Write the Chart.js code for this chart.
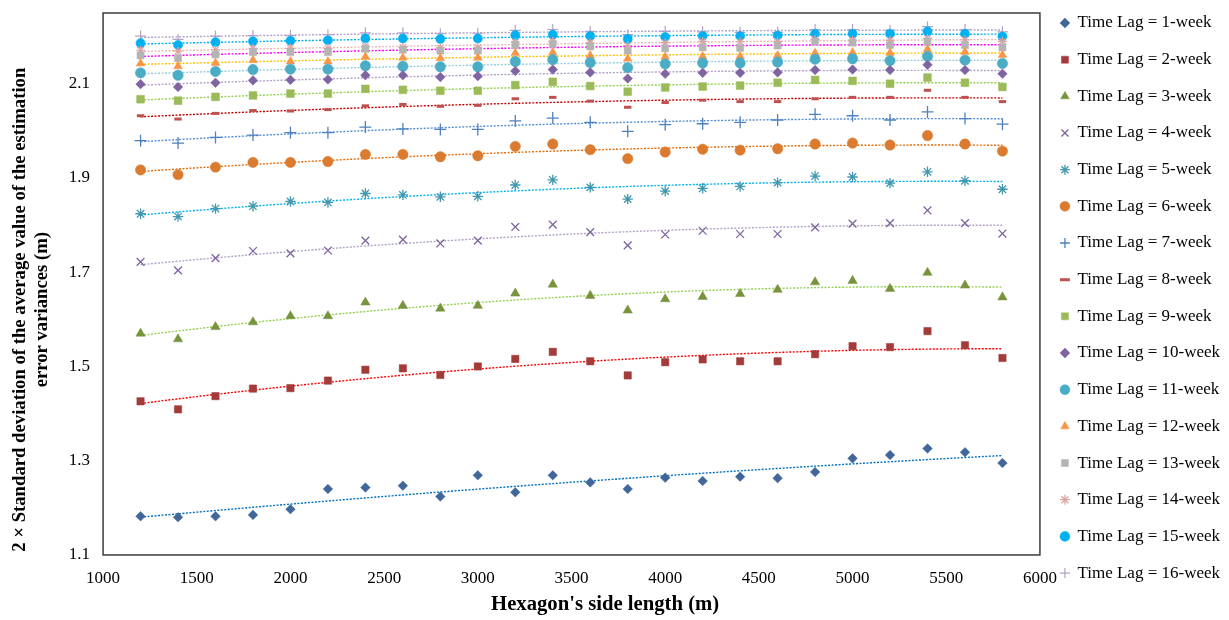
<!DOCTYPE html>
<html>
<head>
<meta charset="utf-8">
<script src="https://cdn.jsdelivr.net/npm/chart.js@4.4.1/dist/chart.umd.min.js"></script>
<style>
  html, body { margin: 0; padding: 0; background: #fff; }
  #wrap { width: 1229px; height: 620px; position: relative; }
</style>
</head>
<body>
<div id="wrap"><canvas id="chart"></canvas></div>
<script>
// ===== DATA =====
const sideLengths = [1200, 1400, 1600, 1800, 2000, 2200, 2400, 2600, 2800, 3000, 3200, 3400,
                     3600, 3800, 4000, 4200, 4400, 4600, 4800, 5000, 5200, 5400, 5600, 5800];

const lag1  = [1.182,1.180,1.182,1.185,1.197,1.240,1.243,1.247,1.224,1.269,1.233,1.269,1.254,1.240,1.264,1.257,1.266,1.263,1.276,1.305,1.312,1.326,1.318,1.295];
const lag2  = [1.426,1.409,1.437,1.453,1.454,1.470,1.493,1.496,1.482,1.500,1.516,1.531,1.511,1.481,1.509,1.515,1.511,1.511,1.526,1.543,1.541,1.575,1.545,1.518];
const lag3  = [1.570,1.558,1.584,1.594,1.607,1.607,1.636,1.629,1.623,1.629,1.655,1.674,1.650,1.619,1.643,1.648,1.654,1.663,1.679,1.682,1.665,1.699,1.672,1.647];
const lag4  = [1.722,1.704,1.730,1.745,1.740,1.746,1.767,1.769,1.761,1.767,1.796,1.801,1.785,1.757,1.780,1.788,1.781,1.781,1.795,1.803,1.804,1.831,1.804,1.782];
const lag5  = [1.824,1.818,1.835,1.840,1.850,1.848,1.867,1.864,1.860,1.861,1.885,1.896,1.880,1.855,1.872,1.878,1.882,1.890,1.904,1.902,1.889,1.913,1.894,1.876];
const lag6  = [1.917,1.907,1.923,1.933,1.933,1.935,1.950,1.950,1.945,1.947,1.967,1.972,1.960,1.941,1.955,1.961,1.959,1.962,1.972,1.974,1.970,1.990,1.972,1.957];
const lag7  = [1.979,1.974,1.986,1.991,1.996,1.996,2.008,2.004,2.003,2.003,2.021,2.027,2.018,1.999,2.013,2.015,2.018,2.023,2.035,2.032,2.023,2.040,2.026,2.014];
const lag8  = [2.032,2.025,2.037,2.043,2.042,2.045,2.053,2.056,2.052,2.054,2.068,2.071,2.063,2.050,2.060,2.065,2.062,2.062,2.068,2.071,2.071,2.086,2.071,2.062];
const lag9  = [2.067,2.064,2.072,2.075,2.079,2.079,2.089,2.087,2.085,2.085,2.097,2.104,2.095,2.083,2.092,2.094,2.096,2.102,2.108,2.106,2.100,2.113,2.102,2.093];
const lag10 = [2.099,2.093,2.102,2.107,2.108,2.109,2.118,2.118,2.114,2.116,2.127,2.130,2.124,2.111,2.121,2.123,2.123,2.124,2.129,2.130,2.129,2.140,2.129,2.121];
const lag11 = [2.123,2.118,2.126,2.130,2.131,2.131,2.138,2.137,2.136,2.136,2.147,2.151,2.145,2.134,2.142,2.144,2.144,2.146,2.152,2.153,2.149,2.158,2.150,2.143];
const lag12 = [2.143,2.137,2.144,2.150,2.147,2.147,2.157,2.155,2.154,2.155,2.165,2.166,2.160,2.153,2.157,2.158,2.158,2.160,2.165,2.166,2.165,2.173,2.167,2.161];
const lag13 = [2.160,2.154,2.162,2.167,2.167,2.167,2.174,2.172,2.170,2.170,2.182,2.184,2.179,2.170,2.175,2.177,2.176,2.181,2.189,2.187,2.182,2.189,2.182,2.177];
const lag14 = [2.171,2.169,2.172,2.175,2.175,2.175,2.179,2.177,2.176,2.177,2.188,2.190,2.187,2.181,2.187,2.190,2.189,2.190,2.194,2.192,2.192,2.196,2.193,2.190];
const lag15 = [2.186,2.182,2.188,2.190,2.191,2.192,2.196,2.196,2.195,2.196,2.203,2.204,2.201,2.195,2.199,2.201,2.201,2.202,2.206,2.206,2.206,2.211,2.206,2.200];
const lag16 = [2.201,2.194,2.201,2.202,2.202,2.204,2.208,2.208,2.206,2.207,2.213,2.215,2.211,2.204,2.211,2.210,2.209,2.209,2.215,2.215,2.213,2.221,2.215,2.210];

const lagLabels = ['Time Lag = 1-week','Time Lag = 2-week','Time Lag = 3-week','Time Lag = 4-week',
  'Time Lag = 5-week','Time Lag = 6-week','Time Lag = 7-week','Time Lag = 8-week','Time Lag = 9-week',
  'Time Lag = 10-week','Time Lag = 11-week','Time Lag = 12-week','Time Lag = 13-week',
  'Time Lag = 14-week','Time Lag = 15-week','Time Lag = 16-week'];

const xTicks = [1000, 1500, 2000, 2500, 3000, 3500, 4000, 4500, 5000, 5500, 6000];
const yTicks = [1.1, 1.3, 1.5, 1.7, 1.9, 2.1];

// ===== STYLES =====
const allLags = [lag1, lag2, lag3, lag4, lag5, lag6, lag7, lag8, lag9, lag10, lag11, lag12, lag13, lag14, lag15, lag16];
const markers = [
  { style: 'rectRot',  color: '#41679a', r: 4.8 },
  { style: 'rect',     color: '#a23b3a', r: 5.2 },
  { style: 'triangle', color: '#77933c', r: 5.4 },
  { style: 'crossRot', color: '#7e649e', r: 5.5, line: 1.3 },
  { style: 'star',     color: '#4198af', r: 5.2, line: 1.3 },
  { style: 'circle',   color: '#da7b30', r: 5.2 },
  { style: 'cross',    color: '#4f81bd', r: 6,   line: 1.3 },
  { style: 'line',     color: '#c0504d', r: 3.7, line: 3 },
  { style: 'rect',     color: '#9bbb59', r: 5.5 },
  { style: 'rectRot',  color: '#8064a2', r: 4.8 },
  { style: 'circle',   color: '#4bacc6', r: 5.2 },
  { style: 'triangle', color: '#f79646', r: 5 },
  { style: 'rect',     color: '#b4b4b4', r: 5 },
  { style: 'star',     color: '#dca3a2', r: 4.5, line: 1.2 },
  { style: 'circle',   color: '#00b0f0', r: 4.6 },
  { style: 'cross',    color: '#b3a2c7', r: 5.5, line: 1.2 },
];
const trendColors = ['#0070c0','#ff0000','#92d050','#b3a2c7','#00b0f0','#e46c0a','#558ed5','#c00000',
                     '#92d050','#b3a2c7','#93cddd','#ffc000','#ff00ff','#e6b9b8','#00b0f0','#b3a2c7'];

const serif = "'Liberation Serif', 'Times New Roman', serif";

// 2nd order polynomial trendline (least squares), like Excel
function polyFit2(xs, ys) {
  const t = xs.map(v => v / 1000);
  let s = [0, 0, 0, 0, 0], b = [0, 0, 0];
  t.forEach((x, i) => {
    for (let k = 0; k < 5; k++) s[k] += Math.pow(x, k);
    for (let k = 0; k < 3; k++) b[k] += Math.pow(x, k) * ys[i];
  });
  const m = [[s[0], s[1], s[2], b[0]], [s[1], s[2], s[3], b[1]], [s[2], s[3], s[4], b[2]]];
  for (let c = 0; c < 3; c++) {
    for (let r = c + 1; r < 3; r++) {
      const f = m[r][c] / m[c][c];
      for (let k = c; k < 4; k++) m[r][k] -= f * m[c][k];
    }
  }
  const a = [0, 0, 0];
  for (let r = 2; r >= 0; r--) {
    let v = m[r][3];
    for (let k = r + 1; k < 3; k++) v -= m[r][k] * a[k];
    a[r] = v / m[r][r];
  }
  return x => { const u = x / 1000; return a[0] + a[1] * u + a[2] * u * u; };
}

const pointSets = allLags.map((vals, i) => {
  const mk = markers[i];
  const filled = !['crossRot', 'star', 'cross', 'line'].includes(mk.style);
  return {
    label: lagLabels[i],
    data: sideLengths.map((x, j) => ({ x, y: vals[j] })),
    pointStyle: mk.style,
    pointRadius: mk.r,
    pointBackgroundColor: mk.color,
    pointBorderColor: mk.color,
    pointBorderWidth: filled ? 0.5 : mk.line,
    backgroundColor: mk.color,
    borderColor: mk.color,
    showLine: false,
  };
});

const trendSets = allLags.map((vals, i) => {
  const f = polyFit2(sideLengths, vals);
  const xs = [];
  for (let x = sideLengths[0]; x <= sideLengths[sideLengths.length - 1]; x += 100) xs.push(x);
  return {
    label: 'trend ' + (i + 1),
    data: xs.map(x => ({ x, y: f(x) })),
    showLine: true,
    borderColor: trendColors[i],
    borderWidth: 1.4,
    borderDash: [2, 1.5],
    pointRadius: 0,
    fill: false,
  };
});

const plotFrame = {
  id: 'plotFrame',
  afterDraw(chart) {
    const { ctx, chartArea: a } = chart;
    ctx.save();
    ctx.strokeStyle = '#3c3c3c';
    ctx.lineWidth = 1.5;
    ctx.strokeRect(a.left, a.top, a.width, a.height);
    ctx.restore();
  }
};

const baseLabels = Chart.defaults.plugins.legend.labels.generateLabels;

new Chart(document.getElementById('chart'), {
  type: 'scatter',
  data: { datasets: [...pointSets, ...trendSets] },
  plugins: [plotFrame],
  options: {
    responsive: true,
    maintainAspectRatio: false,
    animation: false,
    layout: { padding: { top: -6.5, right: -1, bottom: 10, left: 0 } },
    plugins: {
      tooltip: { enabled: false },
      legend: {
        position: 'right',
        align: 'start',
        labels: {
          usePointStyle: true,
          boxWidth: 8,
          boxHeight: 7,
          padding: 21,
          color: '#000',
          font: { family: serif, size: 17, lineHeight: '15.67px' },
          // only the marker series, text as one-line arrays so the row height follows lineHeight
          generateLabels: chart => baseLabels(chart)
            .filter(item => item.datasetIndex < 16)
            .map(item => Object.assign(item, { text: [item.text] })),
        }
      }
    },
    scales: {
      x: {
        type: 'linear',
        min: 1000,
        max: 6000,
        afterBuildTicks: s => { s.ticks = xTicks.map(v => ({ value: v })); },
        grid: { display: false, drawTicks: false },
        border: { display: false },
        ticks: { color: '#000', padding: 13, font: { family: serif, size: 17 }, maxRotation: 0, callback: v => String(v) },
        title: {
          display: true,
          // leading spaces move the title right of the plot centre, as in the original
          text: "             Hexagon's side length (m)",
          color: '#000',
          font: { family: serif, size: 20.7, weight: 'bold' },
          padding: { top: -8.8, bottom: -7.4 },
        }
      },
      y: {
        min: 1.1,
        max: 2.25,
        afterBuildTicks: s => { s.ticks = yTicks.map(v => ({ value: v })); },
        grid: { display: false, drawTicks: false },
        border: { display: false },
        ticks: { color: '#000', padding: 13, font: { family: serif, size: 17, lineHeight: 0 }, callback: v => v.toFixed(1) },
        title: {
          display: true,
          // trailing spaces push the rotated lines a bit lower, as in the original
          text: ['2 × Standard deviation of the average value of the estimation           ',
                 'error variances (m)           '],
          color: '#000',
          font: { family: serif, size: 18.7, weight: 'bold', lineHeight: 1.18 },
          padding: { top: 9, bottom: 2.7 },
        }
      }
    }
  }
});
</script>
</body>
</html>
